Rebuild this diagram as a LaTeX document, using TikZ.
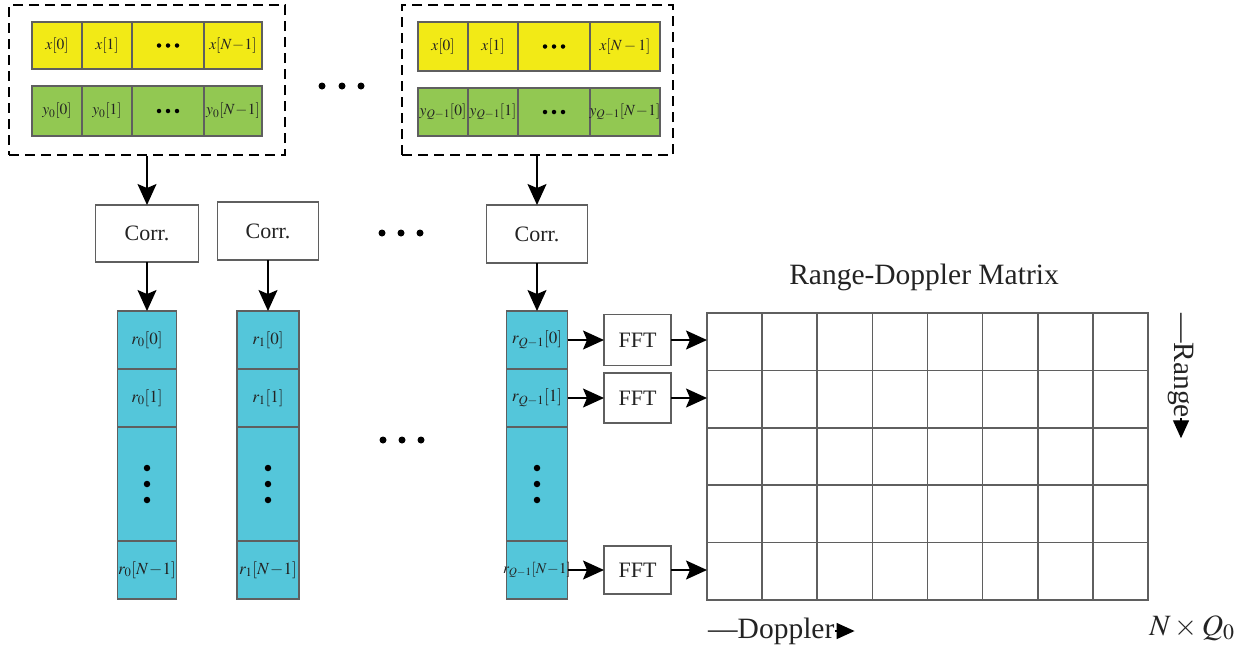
\documentclass[tikz,border=0pt]{standalone}
\usepackage{mathptmx}
\usepackage{fontspec}
\setmainfont{Liberation Serif}
\usetikzlibrary{arrows.meta}
\definecolor{cyel}{RGB}{242,234,22}
\definecolor{cgrn}{RGB}{146,200,82}
\definecolor{ccya}{RGB}{84,198,218}
\definecolor{bgray}{RGB}{95,95,95}
\definecolor{tcol}{RGB}{35,35,35}
\newcommand\clab{\fontsize{15.5}{18}\selectfont}
\newcommand\rlab{\fontsize{17}{19}\selectfont}
\newcommand\rslab{\fontsize{15}{17}\selectfont}
\newcommand\blab{\fontsize{22}{26}\selectfont}
\newcommand\hlab{\fontsize{29.5}{34}\selectfont}
\newcommand\zb[1]{\makebox[0pt][c]{#1}}
\begin{document}
\begin{tikzpicture}[x=1pt,y=-1pt,
  bx/.style={draw=bgray, line width=1.6pt, inner sep=0pt, outer sep=0pt, text=tcol},
  ycell/.style={bx, fill=cyel, font=\clab},
  gcell/.style={bx, fill=cgrn, font=\clab},
  ccell/.style={bx, fill=ccya, font=\rlab},
  wbox/.style={bx, fill=white, font=\blab},
  dbox/.style={draw=black, dash pattern=on 10pt off 6pt, line width=1.3pt, inner sep=0pt},
  arr/.style={draw=black, line width=1.6pt, -{Stealth[length=21pt,width=19pt,inset=4pt]}},
  tri/.style={draw=black, line width=1.4pt, -{Triangle[length=18pt,width=16pt]}},
  bigdot/.style={circle, fill=black, inner sep=0pt, minimum size=7pt},
  smdot/.style={circle, fill=black, inner sep=0pt, minimum size=4.5pt}]
\useasboundingbox (0,0) rectangle (1244,649);

% ---------- dashed input boxes ----------
\node[dbox, minimum width=276pt, minimum height=150pt] (db1) at (147,80) {};
\node[dbox, minimum width=271pt, minimum height=150pt] (db2) at (537.5,80) {};

% left box rows
\node[ycell, minimum width=50pt, minimum height=47pt] (xa0) at (57,45.5) {$x[0]$};
\node[ycell, minimum width=50pt, minimum height=47pt] (xa1) at (107,45.5) {$x[1]$};
\node[ycell, minimum width=72pt, minimum height=47pt] (xa2) at (168,45.5) {};
\node[ycell, minimum width=58pt, minimum height=47pt] (xa3) at (233,45.5) {\zb{$x[N\!-\!1]$}};
\node[gcell, minimum width=50pt, minimum height=50pt] (ya0) at (57,111) {$y_0[0]$};
\node[gcell, minimum width=50pt, minimum height=50pt] (ya1) at (107,111) {$y_0[1]$};
\node[gcell, minimum width=72pt, minimum height=50pt] (ya2) at (168,111) {};
\node[gcell, minimum width=58pt, minimum height=50pt] (ya3) at (233,111) {\zb{$y_0[N\!-\!1]$}};
\foreach \d/\n in {-9/a,0/b,9/c}{
  \node[smdot] (xad\n) at ([xshift=\d pt]xa2.center) {};
  \node[smdot] (yad\n) at ([xshift=\d pt]ya2.center) {};
}

% right box rows
\node[ycell, minimum width=50pt, minimum height=49pt] (xb0) at (443,46.5) {$x[0]$};
\node[ycell, minimum width=50pt, minimum height=49pt] (xb1) at (493,46.5) {$x[1]$};
\node[ycell, minimum width=72pt, minimum height=49pt] (xb2) at (554,46.5) {};
\node[ycell, minimum width=70pt, minimum height=49pt] (xb3) at (625,46.5) {\zb{$x[N-1]$}};
\node[gcell, minimum width=50pt, minimum height=48pt] (yb0) at (443,112) {\zb{$y_{Q-1}[0]$}};
\node[gcell, minimum width=50pt, minimum height=48pt] (yb1) at (493,112) {\zb{$y_{Q-1}[1]$}};
\node[gcell, minimum width=72pt, minimum height=48pt] (yb2) at (554,112) {};
\node[gcell, minimum width=70pt, minimum height=48pt] (yb3) at (625,112) {\zb{$y_{Q-1}[N\!-\!1]$}};
\foreach \d/\n in {-9/a,0/b,9/c}{
  \node[smdot] (xbd\n) at ([xshift=\d pt]xb2.center) {};
  \node[smdot] (ybd\n) at ([xshift=\d pt]yb2.center) {};
}

% dots between boxes
\node[bigdot] (td1) at (322,86) {};
\node[bigdot] (td2) at (342,86) {};
\node[bigdot] (td3) at (361,86) {};

% ---------- correlators ----------
\node[wbox, minimum width=103pt, minimum height=57pt] (corr1) at (147,233.5) {Corr.};
\node[wbox, minimum width=101pt, minimum height=58pt] (corr2) at (268,231) {Corr.};
\node[wbox, minimum width=101pt, minimum height=58pt] (corr3) at (537,234) {Corr.};
\node[bigdot] (md1) at (382,233) {};
\node[bigdot] (md2) at (401,233) {};
\node[bigdot] (md3) at (420,233) {};

\draw[arr] (corr1.north |- db1.south) -- (corr1.north);
\draw[arr] (corr3.north |- db2.south) -- (corr3.north);

% ---------- correlation columns ----------
\node[ccell, minimum width=59pt, minimum height=58pt] (ra0) at (147,340) {$r_0[0]$};
\node[ccell, minimum width=59pt, minimum height=58pt] (ra1) at (147,398) {$r_0[1]$};
\node[ccell, minimum width=59pt, minimum height=114pt] (ra2) at (147,484) {};
\node[ccell, minimum width=59pt, minimum height=58pt] (ra3) at (147,570) {\zb{$r_0[N\!-\!1]$}};

\node[ccell, minimum width=62pt, minimum height=58pt] (rb0) at (268,340) {$r_1[0]$};
\node[ccell, minimum width=62pt, minimum height=58pt] (rb1) at (268,398) {$r_1[1]$};
\node[ccell, minimum width=62pt, minimum height=114pt] (rb2) at (268,484) {};
\node[ccell, minimum width=62pt, minimum height=58pt] (rb3) at (268,570) {\zb{$r_1[N\!-\!1]$}};

\node[ccell, minimum width=61pt, minimum height=58pt] (rc0) at (537,340) {\zb{$r_{Q-1}[0]$}};
\node[ccell, minimum width=61pt, minimum height=58pt] (rc1) at (537,398) {\zb{$r_{Q-1}[1]$}};
\node[ccell, minimum width=61pt, minimum height=114pt] (rc2) at (537,484) {};
\node[ccell, font=\rslab, minimum width=61pt, minimum height=58pt] (rc3) at (537,570) {\zb{$r_{Q-1}[N\!-\!1]$}};

\foreach \c in {ra2,rb2,rc2}{
  \node[bigdot, minimum size=6.5pt] (\c d1) at ([yshift=16pt]\c.center) {};
  \node[bigdot, minimum size=6.5pt] (\c d2) at (\c.center) {};
  \node[bigdot, minimum size=6.5pt] (\c d3) at ([yshift=-16pt]\c.center) {};
}
\node[bigdot] (bd1) at (383,440) {};
\node[bigdot] (bd2) at (402,440) {};
\node[bigdot] (bd3) at (421,440) {};

\draw[arr] (corr1.south) -- (ra0.north);
\draw[arr] (corr2.south) -- (rb0.north);
\draw[arr] (corr3.south) -- (rc0.north);

% ---------- FFT ----------
\node[wbox, minimum width=67pt, minimum height=51pt] (fft1) at (637.5,340) {FFT};
\node[wbox, minimum width=67pt, minimum height=50pt] (fft2) at (637.5,398) {FFT};
\node[wbox, minimum width=67pt, minimum height=48pt] (fft3) at (637.5,570) {FFT};

% ---------- matrix ----------
\node[bx, minimum width=441pt, minimum height=287pt] (mat) at (927.5,456.5) {};
\foreach \i in {1,...,7}
  \draw[bgray, line width=1.6pt] (707+\i*55.125,313) -- (707+\i*55.125,600);
\foreach \j in {1,...,4}
  \draw[bgray, line width=1.6pt] (707,313+\j*57.4) -- (1148,313+\j*57.4);

\draw[arr] (rc0.east) -- (fft1.west);
\draw[arr] (rc1.east) -- (fft2.west);
\draw[arr] (rc3.east) -- (fft3.west);
\draw[arr] (fft1.east) -- (fft1.east -| mat.west);
\draw[arr] (fft2.east) -- (fft2.east -| mat.west);
\draw[arr] (fft3.east) -- (fft3.east -| mat.west);

% ---------- labels ----------
\node[font=\hlab, text=tcol] (title) at (924,277) {Range-Doppler Matrix};
\node[font=\hlab, text=tcol, rotate=-90, anchor=west, inner sep=0pt] (rng) at (1181,313) {—Range};
\coordinate (rngtip) at ([yshift=-20pt]rng.east);
\draw[tri] (rng.east) -- (rngtip);
\node[font=\hlab, text=tcol, anchor=west, inner sep=0pt] (dop) at (708,631) {—Doppler};
\coordinate (doptip) at ([xshift=20pt]dop.east);
\draw[tri] (dop.east) -- (doptip);
\node[font=\hlab, text=tcol] (nq) at (1192,628) {$N\times Q_0$};
\end{tikzpicture}
\end{document}
